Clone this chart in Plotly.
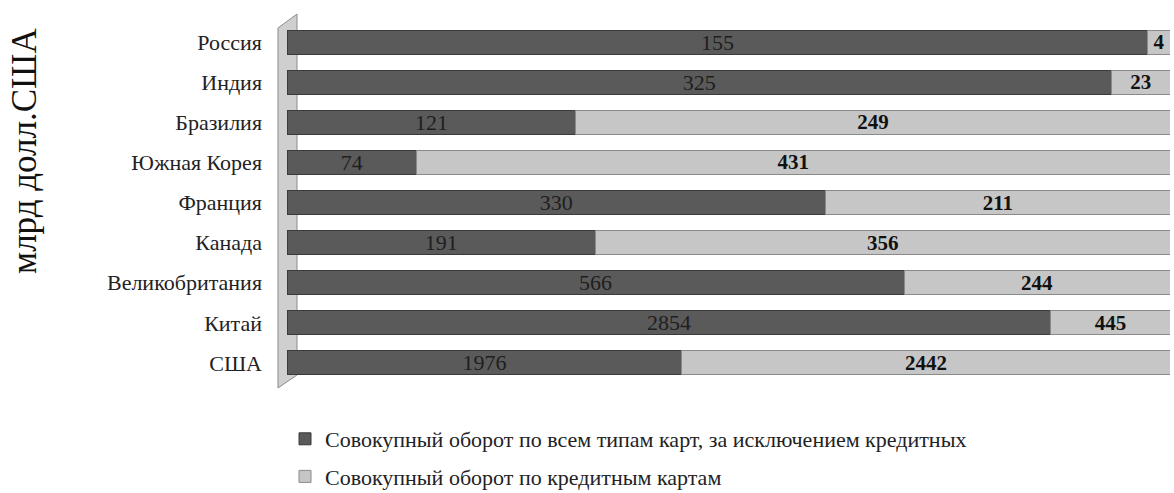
import plotly.graph_objects as go

countries = ["Россия", "Индия", "Бразилия", "Южная Корея", "Франция", "Канада",
             "Великобритания", "Китай", "США"]
non_credit = [155, 325, 121, 74, 330, 191, 566, 2854, 1976]
credit = [4, 23, 249, 431, 211, 356, 244, 445, 2442]
series_names = ["Совокупный оборот по всем типам карт, за исключением кредитных",
                "Совокупный оборот по кредитным картам"]

FONT = "Liberation Serif, Times New Roman, serif"
W, H = 1174, 493
ML, MR, MT, MB = 287, 4, 22, 110
pw, ph = W - ML - MR, H - MT - MB

fig = go.Figure()
fig.add_trace(go.Bar(
    y=countries, x=non_credit, orientation="h", name=series_names[0], legendgroup="a",
    marker=dict(color="#5a5a5a", line=dict(color="#3a3a3a", width=1)),
    text=[str(v) for v in non_credit], textposition="inside", insidetextanchor="middle",
    textangle=0, textfont=dict(family=FONT, size=22, color="#1e1e1e"), constraintext="none",
))
fig.add_trace(go.Bar(
    y=countries, x=credit, orientation="h", name=series_names[1], legendgroup="b",
    marker=dict(color="#c6c6c6", line=dict(color="#8a8a8a", width=1)),
    text=["<b>%d</b>" % v for v in credit], textposition="inside", insidetextanchor="middle",
    textangle=0, textfont=dict(family=FONT, size=21, color="#111111"), constraintext="none",
))

def px(x):
    return (x - ML) / pw

def py(y):
    return (H - MB - y) / ph

wall = "M %f %f L %f %f L %f %f L %f %f Z" % (
    px(278), py(28), px(297), py(14), px(297), py(375), px(278), py(388))

fig.update_layout(
    width=W, height=H, barmode="stack", barnorm="percent", bargap=0.4,
    margin=dict(l=ML, r=MR, t=MT, b=MB, autoexpand=False),
    plot_bgcolor="white", paper_bgcolor="white",
    font=dict(family=FONT, size=22, color="#222"),
    xaxis=dict(range=[0, 100], showticklabels=False, showgrid=False, zeroline=False, ticks=""),
    yaxis=dict(categoryorder="array", categoryarray=countries[::-1], showgrid=False,
               ticks="", ticklabelstandoff=24, tickfont=dict(family=FONT, size=22, color="#222")),
    showlegend=True,
    legend=dict(orientation="v", x=px(285), xanchor="left", y=py(418), yanchor="top",
                font=dict(family=FONT, size=22, color="#222"), traceorder="grouped",
                itemwidth=30, tracegroupgap=6),
    shapes=[dict(type="path", path=wall, xref="paper", yref="paper",
                 fillcolor="#cfcfcf", line=dict(color="#8c8c8c", width=1), layer="below")],
    annotations=[dict(text="млрд долл.США", xref="paper", yref="paper",
                      x=px(24), y=py(151), xanchor="center", yanchor="middle",
                      textangle=-90, showarrow=False,
                      font=dict(family=FONT, size=35, color="#111"))],
)

fig.write_html("out.html")
